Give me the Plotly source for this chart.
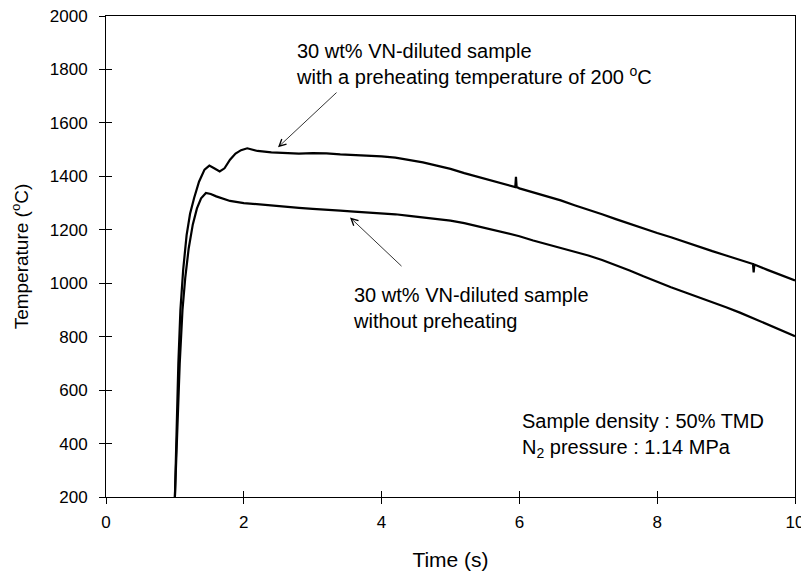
import plotly.graph_objects as go

# Courbes (temps en s, temperature en degC)
t_pre = [1.00, 1.02, 1.05, 1.08, 1.12, 1.17, 1.22, 1.28, 1.35, 1.43, 1.50, 1.57, 1.65, 1.72,
         1.80, 1.88, 1.96, 2.05, 2.20, 2.40, 2.60, 2.80, 3.00, 3.20, 3.40, 3.60, 3.80, 4.00,
         4.20, 4.40, 4.60, 4.80, 5.00, 5.20, 5.40, 5.60, 5.80, 5.94, 5.95, 5.96, 6.00, 6.20,
         6.40, 6.60, 6.80, 7.00, 7.20, 7.40, 7.60, 7.80, 8.00, 8.20, 8.40, 8.60, 8.80, 9.00,
         9.20, 9.39, 9.40, 9.41, 9.60, 9.80, 10.00]
T_pre = [200, 420, 700, 900, 1050, 1180, 1260, 1320, 1380, 1425, 1440, 1430, 1418, 1430,
         1462, 1485, 1498, 1505, 1495, 1490, 1487, 1485, 1487, 1486, 1482, 1480, 1477, 1475,
         1470, 1462, 1452, 1440, 1428, 1412, 1398, 1384, 1368, 1360, 1398, 1360, 1355, 1340,
         1325, 1310, 1292, 1276, 1258, 1240, 1222, 1205, 1188, 1172, 1154, 1138, 1120, 1104,
         1087, 1072, 1040, 1070, 1050, 1030, 1010]

t_nopre = [1.00, 1.03, 1.07, 1.11, 1.15, 1.20, 1.26, 1.32, 1.38, 1.45, 1.52, 1.60, 1.70, 1.80,
           2.00, 2.20, 2.40, 2.60, 2.80, 3.00, 3.20, 3.40, 3.60, 3.80, 4.00, 4.20, 4.40, 4.60,
           4.80, 5.00, 5.20, 5.40, 5.60, 5.80, 6.00, 6.20, 6.40, 6.60, 6.80, 7.00, 7.20, 7.40,
           7.60, 7.80, 8.00, 8.20, 8.40, 8.60, 8.80, 9.00, 9.20, 9.40, 9.60, 9.80, 10.00]
T_nopre = [200, 420, 700, 900, 1020, 1130, 1220, 1280, 1318, 1338, 1334, 1325, 1315, 1308,
           1300, 1295, 1290, 1286, 1282, 1278, 1276, 1272, 1268, 1265, 1263, 1258, 1252, 1246,
           1240, 1234, 1225, 1213, 1200, 1188, 1176, 1160, 1146, 1132, 1118, 1104, 1087, 1068,
           1048, 1026, 1004, 985, 966, 948, 930, 910, 890, 868, 846, 824, 802]

x_ticks = [0, 2, 4, 6, 8, 10]
y_ticks = [200, 400, 600, 800, 1000, 1200, 1400, 1600, 1800, 2000]

police = dict(family="Liberation Sans, Arial, sans-serif", color="black")

# position en pixels (image de reference) -> coordonnees des donnees
# zone de trace : x 106..795, y 16..497
def px_x(p):
    return (p - 106) / 68.9

def px_y(p):
    return 200 + (497 - p) * 3.75

fig = go.Figure()
fig.add_trace(go.Scatter(x=t_pre, y=T_pre, mode="lines",
                         line=dict(color="black", width=2.2), hoverinfo="skip"))
fig.add_trace(go.Scatter(x=t_nopre, y=T_nopre, mode="lines",
                         line=dict(color="black", width=2.2), hoverinfo="skip"))
# trace vide pour faire exister les axes fantomes
fig.add_trace(go.Scatter(x=[None], y=[None], xaxis="x2", yaxis="y2", showlegend=False))

axe = dict(showgrid=False, zeroline=False, showline=True, linecolor="black", linewidth=1,
           mirror=True, ticks="outside", ticklen=6, tickcolor="black", automargin=False,
           ticklabeloverflow="allow", tickfont=dict(size=17, **police))

# la page html a une marge de 8 px : la figure fait donc 801x568
fig.update_layout(
    width=801, height=568,
    showlegend=False,
    plot_bgcolor="white", paper_bgcolor="white",
    margin=dict(l=98, r=14, t=8, b=79),
    xaxis=dict(range=[0, 10], tickvals=x_ticks, ticklabelstandoff=4,
               title=dict(text="Time (s)", font=dict(size=21, **police), standoff=20), **axe),
    yaxis=dict(range=[200, 2000], tickvals=y_ticks, ticklabelstandoff=8,
               title=dict(text="Temperature (<sup>o</sup>C)", font=dict(size=19, **police), standoff=16), **axe),
    # axes fantomes pour les graduations qui traversent le cadre
    xaxis2=dict(range=[0, 10], overlaying="x", anchor="y", side="bottom", tickvals=x_ticks,
                ticks="inside", ticklen=6, tickcolor="black", showticklabels=False,
                showgrid=False, zeroline=False, showline=False),
    yaxis2=dict(range=[200, 2000], overlaying="y", anchor="x", side="left", tickvals=y_ticks,
                ticks="inside", ticklen=6, tickcolor="black", showticklabels=False,
                showgrid=False, zeroline=False, showline=False),
)

# fleches
fig.add_annotation(x=px_x(278), y=px_y(148), ax=px_x(338), ay=px_y(92),
                   axref="x", ayref="y", showarrow=True, arrowhead=5, arrowsize=1.7,
                   arrowwidth=0.8, arrowcolor="black", text="")
fig.add_annotation(x=px_x(350), y=px_y(218), ax=px_x(403), ay=px_y(268),
                   axref="x", ayref="y", showarrow=True, arrowhead=5, arrowsize=1.7,
                   arrowwidth=0.8, arrowcolor="black", text="")

# textes
fig.add_annotation(x=px_x(294), y=px_y(65), xanchor="left", yanchor="middle",
                   showarrow=False, align="left", font=dict(size=20, **police),
                   text="30 wt% VN-diluted sample<br>with a preheating temperature of 200 <sup>o</sup>C")
fig.add_annotation(x=px_x(351), y=px_y(308), xanchor="left", yanchor="middle",
                   showarrow=False, align="left", font=dict(size=20, **police),
                   text="30 wt% VN-diluted sample<br>without preheating")
fig.add_annotation(x=px_x(520), y=px_y(436), xanchor="left", yanchor="middle",
                   showarrow=False, align="left", font=dict(size=20, **police),
                   text="Sample density : 50% TMD<br>N<sub>2</sub> pressure : 1.14 MPa")

fig.write_html("out.html")
